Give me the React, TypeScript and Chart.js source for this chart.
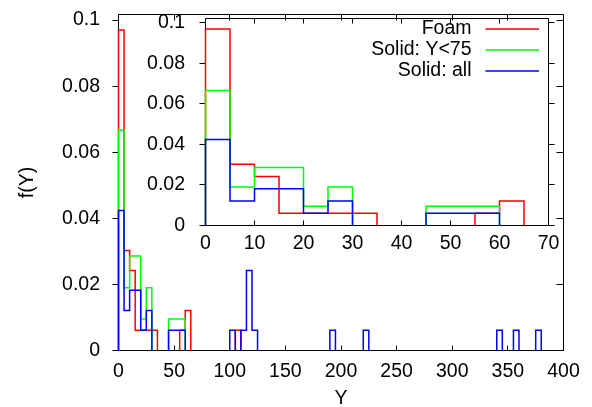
import React, { useEffect, useRef } from "react";
import { Chart, registerables } from "chart.js";

Chart.register(...registerables);

// ---------- data ----------
const seriesNames = ["Foam", "Solid: Y<75", "Solid: all"];
const seriesColors = ["#ff0000", "#00ff00", "#0000ff"];
const binWidth = 5;

const foamBinStarts = [0, 5, 10, 15, 20, 25, 30, 55, 60, 105];
const foamValues = [0.097, 0.0303, 0.0242, 0.0061, 0.0061, 0.0061, 0.0061, 0.0061, 0.0121, 0.0061];

const solidLowBinStarts = [0, 5, 10, 15, 20, 25, 45, 50, 55];
const solidLowValues = [0.0667, 0.019, 0.0286, 0.0286, 0.0095, 0.019, 0.0095, 0.0095, 0.0095];

const solidAllBinStarts = [0, 5, 10, 15, 20, 25, 45, 50, 55, 100, 110, 115, 120, 190, 220, 340, 355, 375];
const solidAllValues = [
  0.0424, 0.0121, 0.0182, 0.0182, 0.0061, 0.0121, 0.0061, 0.0061, 0.0061,
  0.0061, 0.0061, 0.0242, 0.0061, 0.0061, 0.0061, 0.0061, 0.0061, 0.0061,
];

const mainXTicks = [0, 50, 100, 150, 200, 250, 300, 350, 400];
const mainYTicks = [0, 0.02, 0.04, 0.06, 0.08, 0.1];
const yTickLabels = ["0", "0.02", "0.04", "0.06", "0.08", "0.1"];
const insetXTicks = [0, 10, 20, 30, 40, 50, 60, 70];
const insetYTicks = [0, 0.02, 0.04, 0.06, 0.08, 0.1];

const mainXRange = [0, 400];
const mainYRange = [0, 0.1017];
const insetXRange = [0, 70];
const insetYRange = [0, 0.1022];

const FONT = "'Liberation Sans', Arial, Helvetica, sans-serif";
const FS = 19.5;

// ---------- helpers ----------
function stepPoints(starts: number[], values: number[], xMax: number) {
  const pts: { x: number; y: number | null }[] = [];
  let prevEnd: number | null = null;
  for (let i = 0; i < starts.length; i++) {
    const s = starts[i];
    if (s >= xMax) break;
    const e = Math.min(s + binWidth, xMax);
    const v = values[i];
    if (prevEnd === null) {
      pts.push({ x: s, y: 0 });
    } else if (prevEnd !== s) {
      pts.push({ x: prevEnd, y: 0 });
      pts.push({ x: (prevEnd + s) / 2, y: null });
      pts.push({ x: s, y: 0 });
    }
    pts.push({ x: s, y: v });
    pts.push({ x: e, y: v });
    prevEnd = e;
  }
  if (prevEnd !== null) pts.push({ x: prevEnd, y: 0 });
  return pts;
}

function makeDatasets(xMax: number) {
  const all = [
    [foamBinStarts, foamValues],
    [solidLowBinStarts, solidLowValues],
    [solidAllBinStarts, solidAllValues],
  ];
  return all.map(([s, v], i) => ({
    label: seriesNames[i],
    data: stepPoints(s as number[], v as number[], xMax),
    borderColor: seriesColors[i],
    backgroundColor: seriesColors[i],
    borderWidth: 1.5,
    pointRadius: 0,
    fill: false,
    tension: 0,
    spanGaps: false,
    clip: false as any,
    order: 3 - i,
  }));
}

const crisp = (v: number) => Math.round(v - 0.5) + 0.5;

function framePlugin(id: string, tl: { left: number; right: number; top: number; bottom: number }) {
  return {
    id,
    beforeDatasetsDraw(chart: any) {
      const { ctx, chartArea: a, scales } = chart;
      ctx.save();
      ctx.strokeStyle = "#000";
      ctx.lineWidth = 1;
      ctx.beginPath();
      ctx.rect(a.left, a.top, a.right - a.left, a.bottom - a.top);
      for (const t of scales.x.ticks) {
        const px = crisp(scales.x.getPixelForValue(t.value));
        ctx.moveTo(px, a.bottom);
        ctx.lineTo(px, a.bottom - tl.bottom);
        ctx.moveTo(px, a.top);
        ctx.lineTo(px, a.top + tl.top);
      }
      for (const t of scales.y.ticks) {
        const py = crisp(scales.y.getPixelForValue(t.value));
        ctx.moveTo(a.left, py);
        ctx.lineTo(a.left + tl.left, py);
        ctx.moveTo(a.right, py);
        ctx.lineTo(a.right - tl.right, py);
      }
      ctx.stroke();
      ctx.restore();
    },
  };
}

const legendPlugin = {
  id: "insetLegend",
  afterDatasetsDraw(chart: any) {
    const { ctx, chartArea: a } = chart;
    ctx.save();
    ctx.font = `${FS}px ${FONT}`;
    ctx.textAlign = "right";
    ctx.textBaseline = "middle";
    for (let i = 0; i < seriesNames.length; i++) {
      const y = a.top + 10.5 + i * 21;
      ctx.fillStyle = "#000";
      ctx.fillText(seriesNames[i], a.right - 77, y);
      ctx.strokeStyle = seriesColors[i];
      ctx.lineWidth = 1.5;
      ctx.beginPath();
      ctx.moveTo(a.right - 63, y);
      ctx.lineTo(a.right - 9.5, y);
      ctx.stroke();
    }
    ctx.restore();
  },
};

function tickFont() {
  return { family: FONT, size: FS };
}

function fixX(h: number) {
  return (s: any) => {
    s.height = h;
    s.paddingLeft = 0;
    s.paddingRight = 0;
  };
}
function fixY(w: number) {
  return (s: any) => {
    s.width = w;
    s.paddingTop = 0;
    s.paddingBottom = 0;
  };
}

export default function App() {
  const mainRef = useRef<HTMLCanvasElement | null>(null);
  const insetRef = useRef<HTMLCanvasElement | null>(null);

  useEffect(() => {
    if (!mainRef.current || !insetRef.current) return;
    Chart.defaults.font.family = FONT;
    Chart.defaults.color = "#000";

    const main = new Chart(mainRef.current, {
      type: "line",
      data: { datasets: makeDatasets(mainXRange[1]) as any },
      options: {
        animation: false,
        responsive: false,
        devicePixelRatio: 1,
        layout: { padding: { left: 0, top: 14.5, right: 28.5, bottom: 0 } },
        plugins: { legend: { display: false }, tooltip: { enabled: false } },
        scales: {
          x: {
            type: "linear",
            min: mainXRange[0],
            max: mainXRange[1],
            afterBuildTicks: (s: any) => {
              s.ticks = mainXTicks.map((v) => ({ value: v }));
            },
            afterFit: fixX(56.5),
            grid: { display: false, drawTicks: false, tickLength: 0 },
            border: { display: false },
            ticks: {
              color: "#000",
              font: tickFont(),
              padding: 9,
              maxRotation: 0,
              autoSkip: false,
              callback: (v: any) => String(v),
            },
            title: {
              display: true,
              text: "Y",
              color: "#000",
              font: tickFont(),
              padding: { top: 0, bottom: -3 },
            },
          },
          y: {
            type: "linear",
            min: mainYRange[0],
            max: mainYRange[1],
            afterBuildTicks: (s: any) => {
              s.ticks = mainYTicks.map((v) => ({ value: v }));
            },
            afterFit: fixY(118.5),
            grid: { display: false, drawTicks: false, tickLength: 0 },
            border: { display: false },
            ticks: {
              color: "#000",
              font: tickFont(),
              padding: 18.5,
              autoSkip: false,
              callback: (v: any) => yTickLabels[mainYTicks.indexOf(Number(v))] ?? "",
            },
            title: {
              display: true,
              text: "f(Y)",
              color: "#000",
              font: tickFont(),
              padding: { top: 16, bottom: 0 },
            },
          },
        },
      },
      plugins: [framePlugin("mainFrame", { left: -6, right: 7, top: 6, bottom: 5 })],
    } as any);

    const inset = new Chart(insetRef.current, {
      type: "line",
      data: { datasets: makeDatasets(insetXRange[1]) as any },
      options: {
        animation: false,
        responsive: false,
        devicePixelRatio: 1,
        layout: { padding: { left: 0, top: 18.5, right: 43.5, bottom: 151.5 } },
        plugins: { legend: { display: false }, tooltip: { enabled: false } },
        scales: {
          x: {
            type: "linear",
            min: insetXRange[0],
            max: insetXRange[1],
            afterBuildTicks: (s: any) => {
              s.ticks = insetXTicks.map((v) => ({ value: v }));
            },
            afterFit: fixX(30),
            grid: { display: false, drawTicks: false, tickLength: 0 },
            border: { display: false },
            ticks: {
              color: "#000",
              font: tickFont(),
              padding: 6,
              maxRotation: 0,
              autoSkip: false,
              callback: (v: any) => String(v),
            },
          },
          y: {
            type: "linear",
            min: insetYRange[0],
            max: insetYRange[1],
            afterBuildTicks: (s: any) => {
              s.ticks = insetYTicks.map((v) => ({ value: v }));
            },
            afterFit: fixY(205.5),
            grid: { display: false, drawTicks: false, tickLength: 0 },
            border: { display: false },
            ticks: {
              color: "#000",
              font: tickFont(),
              padding: 20.5,
              autoSkip: false,
              callback: (v: any) => yTickLabels[insetYTicks.indexOf(Number(v))] ?? "",
            },
          },
        },
      },
      plugins: [framePlugin("insetFrame", { left: -6, right: -6, top: 5, bottom: 5 }), legendPlugin],
    } as any);

    return () => {
      main.destroy();
      inset.destroy();
    };
  }, []);

  return (
    <div style={{ position: "absolute", left: 0, top: 0, width: 592, height: 407, background: "#fff" }}>
      <canvas
        ref={mainRef}
        width={592}
        height={407}
        style={{ position: "absolute", left: 0, top: 0, display: "block" }}
      />
      <canvas
        ref={insetRef}
        width={592}
        height={407}
        style={{ position: "absolute", left: 0, top: 0, display: "block", pointerEvents: "none" }}
      />
    </div>
  );
}
